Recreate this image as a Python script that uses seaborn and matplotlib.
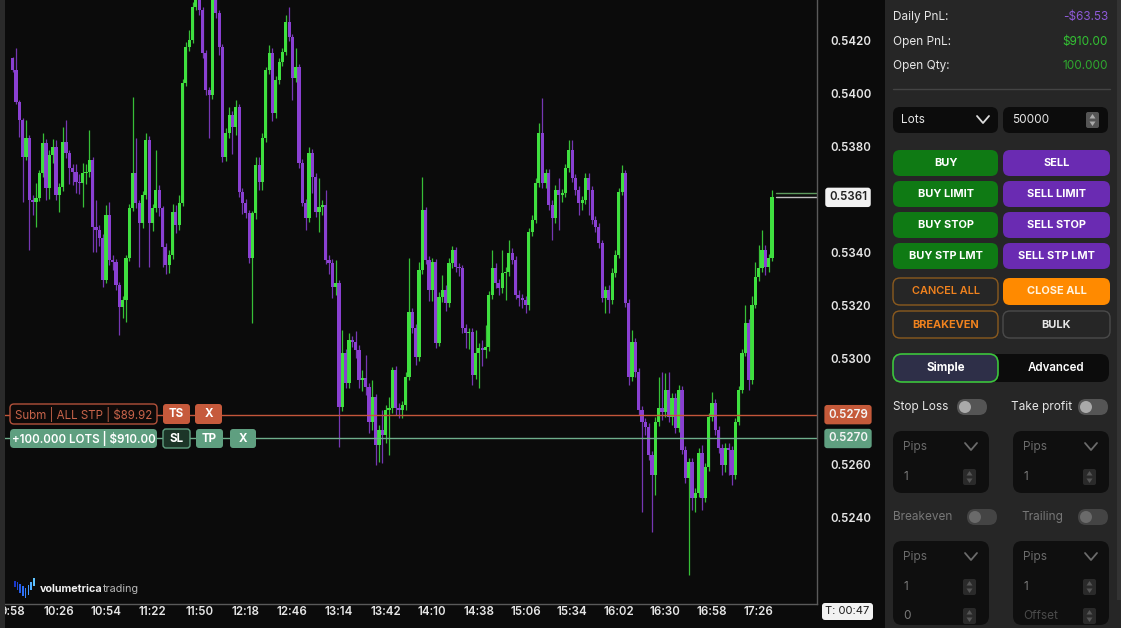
import matplotlib
matplotlib.use('Agg')
import matplotlib.pyplot as plt
import matplotlib.patches as mpatches
from matplotlib.transforms import blended_transform_factory
import seaborn as sns
import numpy as np

# ---- chart data (prices in 1e-5 units, 2 minute bars from 09:58) ----
first_open = 54136
closes = [
    54091, 53970, 53902, 53762, 53834, 53600, 53592, 53607, 53702, 53815,
    53645, 53770, 53800, 53619, 53649, 53819, 53777, 53721, 53706, 53668,
    53664, 53702, 53705, 53751, 53498, 53487, 53457, 53298, 53543, 53374,
    53366, 53279, 53196, 53223, 53381, 53570, 53702, 53589, 53513, 53619,
    53826, 53513, 53570, 53638, 53568, 53423, 53355, 53392, 53555, 53506,
    53589, 54042, 54177, 54204, 54328, 54374, 54317, 54155, 54015, 53996,
    54366, 54306, 54177, 53762, 53853, 53921, 53875, 53951, 53630, 53589,
    53551, 53381, 53550, 53732, 53668, 53834, 54091, 54155, 53928, 54053,
    54121, 54158, 54272, 54215, 54060, 54102, 53740, 53589, 53532, 53777,
    53687, 53555, 53574, 53581, 53374, 53362, 53272, 53287, 52819, 53023,
    52909, 53072, 53064, 53034, 52921, 52928, 52894, 52762, 52857, 52675,
    52732, 52713, 52807, 52815, 52958, 52814, 52807, 52826, 52932, 53177,
    53117, 53007, 53336, 53562, 53374, 53260, 53366, 53060, 53234, 53260,
    53211, 53362, 53411, 53347, 53343, 53117, 53098, 53102, 52940, 53023,
    53041, 53034, 53045, 53241, 53343, 53287, 53268, 53324, 53328, 53400,
    53374, 53241, 53230, 53223, 53204, 53479, 53524, 53664, 53853, 53664,
    53702, 53581, 53532, 53638, 53619, 53626, 53721, 53789, 53683, 53638,
    53589, 53600, 53683, 53638, 53524, 53498, 53438, 53230, 53260, 53223,
    53324, 53392, 53630, 53702, 53211, 52932, 53064, 52951, 52807, 52762,
    52743, 52638, 52562, 52762, 52815, 52800, 52883, 52781, 52853, 52740,
    52883, 52656, 52551, 52611, 52475, 52494, 52645, 52475, 52592, 52781,
    52834, 52732, 52664, 52600, 52664, 52656, 52562, 52762, 52883, 53023,
    53136, 52921, 53204, 53309, 53343, 53411, 53347, 53381, 53610,
]
upper_wick = [
    4, 83, 8, 8, 68, 11, 20, 57, 10, 38,
    15, 20, 30, 26, 15, 57, 83, 10, 15, 30,
    30, 38, 30, 113, 10, 102, 20, 15, 38, 49,
    20, 10, 10, 15, 10, 15, 287, 132, 10, 15,
    25, 15, 15, 151, 20, 10, 15, 20, 30, 25,
    30, 15, 20, 38, 20, 10, 10, 10, 10, 10,
    10, 10, 10, 10, 20, 30, 15, 25, 10, 15,
    15, 10, 10, 30, 30, 20, 10, 30, 20, 15,
    15, 15, 26, 57, 10, 72, 10, 15, 15, 23,
    15, 15, 110, 20, 56, 20, 15, 87, 10, 87,
    15, 25, 15, 40, 20, 30, 87, 15, 64, 10,
    20, 75, 20, 42, 10, 15, 20, 15, 20, 204,
    15, 15, 30, 125, 10, 15, 15, 10, 20, 57,
    20, 20, 15, 11, 15, 10, 15, 15, 15, 87,
    20, 30, 83, 15, 68, 20, 15, 87, 20, 49,
    20, 15, 20, 15, 15, 15, 20, 20, 38, 132,
    15, 15, 20, 20, 45, 15, 15, 38, 38, 15,
    15, 15, 20, 20, 15, 15, 15, 10, 15, 20,
    20, 20, 15, 30, 10, 15, 45, 15, 15, 15,
    15, 15, 15, 20, 117, 136, 64, 68, 20, 20,
    20, 15, 15, 15, 15, 20, 20, 30, 15, 15,
    42, 15, 15, 15, 20, 20, 15, 15, 15, 15,
    68, 15, 34, 57, 87, 75, 19, 15, 26,
]
lower_wick = [
    8, 8, 64, 170, 11, 189, 50, 94, 10, 15,
    45, 40, 30, 19, 64, 15, 20, 60, 50, 40,
    40, 90, 40, 20, 94, 83, 30, 26, 10, 20,
    30, 20, 106, 40, 83, 10, 10, 20, 166, 20,
    15, 166, 30, 15, 30, 75, 35, 30, 15, 30,
    20, 10, 10, 15, 10, 10, 20, 20, 20, 162,
    15, 20, 30, 20, 15, 20, 100, 30, 20, 40,
    20, 20, 245, 20, 30, 30, 15, 15, 30, 20,
    15, 15, 10, 15, 83, 15, 20, 10, 45, 15,
    60, 20, 75, 30, 15, 40, 40, 30, 151, 15,
    20, 20, 20, 30, 30, 40, 30, 40, 30, 75,
    64, 106, 30, 170, 20, 25, 30, 30, 20, 10,
    20, 30, 15, 15, 15, 40, 40, 20, 10, 20,
    30, 15, 20, 20, 30, 20, 56, 60, 38, 15,
    132, 60, 30, 15, 15, 20, 25, 20, 100, 15,
    15, 15, 30, 30, 30, 20, 15, 10, 15, 20,
    20, 20, 83, 20, 132, 25, 15, 15, 15, 20,
    45, 25, 15, 94, 15, 20, 20, 15, 57, 49,
    15, 15, 10, 10, 15, 30, 15, 20, 20, 340,
    30, 20, 215, 75, 15, 30, 20, 20, 30, 20,
    15, 15, 20, 366, 45, 53, 15, 45, 15, 15,
    15, 20, 20, 38, 25, 94, 38, 15, 10, 10,
    10, 38, 15, 10, 15, 15, 30, 20, 10,
]
bar_minutes = 2
time_minutes = [0, 28, 56, 84, 112, 140, 168, 196, 224, 252, 280, 308, 336, 364, 392, 420, 448]
time_labels = ['9:58', '10:26', '10:54', '11:22', '11:50', '12:18', '12:46', '13:14', '13:42',
               '14:10', '14:38', '15:06', '15:34', '16:02', '16:30', '16:58', '17:26']
price_ticks = [0.5420, 0.5400, 0.5380, 0.5340, 0.5320, 0.5300, 0.5260, 0.5240]
last_price = 0.5361
bid_price = 0.53625
stop_price = 0.5279
entry_price = 0.5270

scale = 1e-5
c = np.array(closes) * scale
o = np.r_[first_open, closes[:-1]] * scale
hi = np.maximum(o, c) + np.array(upper_wick) * scale
lo = np.minimum(o, c) - np.array(lower_wick) * scale
t = np.arange(len(closes)) * bar_minutes

UP = '#3fe03f'
DOWN = '#8a40d2'
BG = '#0b0b0b'

sns.set_theme(style='dark', rc={'axes.facecolor': BG, 'figure.facecolor': BG})
plt.rcParams['font.family'] = ['Inter', 'DejaVu Sans']

W, H = 1121, 628
fig = plt.figure(figsize=(W / 100, H / 100), dpi=100)
ax = fig.add_axes([0, 24 / H, 817 / W, 604 / H])
ax.set_facecolor(BG)

cols = np.where(c >= o, UP, DOWN)
ax.vlines(t, lo, hi, colors=cols, linewidth=0.9, alpha=0.85)
body = np.where(np.abs(c - o) < 2e-5, 2e-5, c - o)
ax.bar(t, body, bottom=o, width=1.9, color=cols, linewidth=0, edgecolor='none')

# order lines and last price lines
ax.axhline(stop_price, color='#c4563a', lw=1)
ax.axhline(entry_price, color='#6fae8c', lw=1)
ax.axhline(bid_price, xmin=776 / 817, color='#5f9a5f', lw=1)
ax.axhline(last_price, xmin=776 / 817, color='#c0c0c0', lw=1)

ax.set_xlim(-12.7 / 1.665, (817 - 12.7) / 1.665)
ax.set_ylim(0.5420 - 563 / 26500, 0.5420 + 41 / 26500)
ax.grid(False)
for s in ['top', 'left']:
    ax.spines[s].set_visible(False)
for s in ['right', 'bottom']:
    ax.spines[s].set_color('#5a5a5a')
    ax.spines[s].set_linewidth(1)

ax.set_yticks(price_ticks, [f'{p:.4f}' for p in price_ticks])
ax.yaxis.tick_right()
ax.tick_params(axis='y', length=0, pad=9.5, labelsize=8.3, labelcolor='#e6e6e6')
ax.set_xticks(time_minutes, time_labels)
ax.tick_params(axis='x', length=0, pad=1.5, labelsize=8.3, labelcolor='#e6e6e6')
for lab in ax.get_xticklabels() + ax.get_yticklabels():
    lab.set_fontweight('semibold')

# price tags on the axis
tr = blended_transform_factory(ax.transAxes, ax.transData)
for price, fc, tc in [(last_price, '#f2f2f2', '#222222'),
                      (stop_price, '#c55a3a', '#f5f5f5'),
                      (entry_price, '#5f9f80', '#f5f5f5')]:
    ax.text(848 / 817, price, f'{price:.4f}', transform=tr, ha='center', va='center',
            fontsize=8.3, fontweight='semibold', color=tc, clip_on=False,
            bbox=dict(boxstyle='round,pad=0.32,rounding_size=0.25', fc=fc, ec='none'))

# ---- overlay in pixel coordinates for the trading panel ----
ui = fig.add_axes([0, 0, 1, 1], zorder=5)
ui.set_xlim(0, W)
ui.set_ylim(H, 0)
ui.axis('off')
ui.patch.set_alpha(0)


def rect(x0, y0, w, h, fc):
    ui.add_patch(mpatches.Rectangle((x0, y0), w, h, fc=fc, ec='none', lw=0))


def rbox(x0, y0, x1, y1, fc, ec='none', r=6, lw=1.0):
    ui.add_patch(mpatches.FancyBboxPatch((x0, y0), x1 - x0, y1 - y0,
                                         boxstyle=f'round,pad=0,rounding_size={r}',
                                         fc=fc, ec=ec, lw=lw if ec != 'none' else 0))


def label(x, y, s, color='#e6e6e6', size=8.5, weight='normal', ha='left'):
    return ui.text(x, y, s, color=color, fontsize=size, fontweight=weight, ha=ha, va='center')


def chevron(x, y, color):
    ui.plot([x - 6, x, x + 6], [y - 4, y + 3, y - 4], color=color, lw=1.3,
            solid_capstyle='round')


def spinner(x, y, fc, ac):
    rbox(x, y - 8, x + 13, y + 8, fc, r=2)
    ui.add_patch(mpatches.Polygon([[x + 3.5, y - 1.5], [x + 9.5, y - 1.5], [x + 6.5, y - 6]],
                                  fc=ac, ec='none', lw=0))
    ui.add_patch(mpatches.Polygon([[x + 3.5, y + 1.5], [x + 9.5, y + 1.5], [x + 6.5, y + 6]],
                                  fc=ac, ec='none', lw=0))


def toggle(x0, y, fc, kc):
    rbox(x0, y - 8, x0 + 30, y + 8, fc, r=8)
    ui.add_patch(mpatches.Circle((x0 + 8, y), 6, fc=kc, ec='none', lw=0))


# left scrollbar strip and panel background
rect(0, 0, 5, H, '#2a2a2a')
rect(885, 0, W - 885, H, '#262626')
rect(1117, 0, 4, 600, '#333333')

# order tags on the chart
rbox(10, 404, 157, 424, '#0e0a09', ec='#b2513a', r=4)
label(83.5, 414, 'Subm | ALL STP | $89.92', color='#c8644a', size=8.3, ha='center')
rbox(163, 404, 190, 424, '#c65a3c', r=3)
label(176.5, 414, 'TS', color='#ffffff', size=8.3, weight='bold', ha='center')
rbox(195, 404, 222, 424, '#c65a3c', r=3)
label(208.5, 414, 'X', color='#ffffff', size=8.3, weight='bold', ha='center')
rbox(10, 429, 157, 448, '#5f9f80', r=4)
label(83.5, 438.5, '+100.000 LOTS | $910.00', color='#ffffff', size=8.3, weight='semibold', ha='center')
rbox(163, 429, 190, 448, '#1c3528', ec='#5f9f80', r=3)
label(176.5, 438.5, 'SL', color='#ffffff', size=8.3, weight='bold', ha='center')
rbox(196, 429, 223, 448, '#5f9f80', r=3)
label(209.5, 438.5, 'TP', color='#ffffff', size=8.3, weight='bold', ha='center')
rbox(230, 429, 256, 448, '#5f9f80', r=3)
label(243, 438.5, 'X', color='#ffffff', size=8.3, weight='bold', ha='center')

# logo: a "V" made of slim bars
logo_tops = [581, 582, 584, 586, 588, 585, 582, 578]
logo_bottoms = [587, 590, 593, 596, 598, 595, 590, 586]
logo_cols = sns.blend_palette(['#1a36c8', '#2f78ff', '#5fc4ff'], len(logo_tops))
for k, (top, bot, col) in enumerate(zip(logo_tops, logo_bottoms, logo_cols)):
    rect(14 + k * 2.7, top, 1.6, bot - top, col)
brand = label(40, 589, 'volumetrica', color='#f0f0f0', size=7.8, weight='bold')
fig.canvas.draw()
bb = brand.get_window_extent().transformed(ui.transData.inverted())
label(max(bb.x0, bb.x1), 589, 'trading', color='#b8b8b8', size=7.8)

# timer box
rbox(822, 603, 873, 620, '#f2f2f2', r=3)
label(847.5, 611.5, 'T: 00:47', color='#1a1a1a', size=8, ha='center')

# account summary
for yy, name, val, vc in [(17, 'Daily PnL:', '-$63.53', '#8e5ad8'),
                          (42, 'Open PnL:', '$910.00', '#33c233'),
                          (66, 'Open Qty:', '100.000', '#2fa82f')]:
    label(893, yy, name, color='#e6e6e6', size=8.5)
    label(1108, yy, val, color=vc, size=8.5, ha='right')
ui.plot([893, 1110], [89, 89], color='#444444', lw=1)

rbox(893, 107, 998, 133, '#0c0c0c', r=7)
label(901, 120, 'Lots', size=8.5)
chevron(983, 120, '#dddddd')
rbox(1003, 107, 1108, 133, '#0c0c0c', r=7)
label(1012, 120, '50000', size=8.5)
spinner(1086, 120, '#555555', '#aaaaaa')

buttons = [('BUY', 'SELL', 163), ('BUY LIMIT', 'SELL LIMIT', 194),
           ('BUY STOP', 'SELL STOP', 225), ('BUY STP LMT', 'SELL STP LMT', 256)]
for left_txt, right_txt, yy in buttons:
    rbox(893, yy - 13, 998, yy + 13, '#0f7a14', r=7)
    rbox(1003, yy - 13, 1110, yy + 13, '#6a2bb2', r=7)
    label(945.5, yy, left_txt, color='#ffffff', size=7.9, weight='bold', ha='center')
    label(1056.5, yy, right_txt, color='#ffffff', size=7.9, weight='bold', ha='center')

rbox(893, 278, 998, 305, '#262626', ec='#8a5a1e', r=7)
label(945.5, 291.5, 'CANCEL ALL', color='#f0821e', size=7.9, weight='semibold', ha='center')
rbox(1003, 278, 1110, 305, '#ff8a00', r=7)
label(1056.5, 291.5, 'CLOSE ALL', color='#fff3df', size=7.9, weight='bold', ha='center')
rbox(893, 311, 998, 338, '#262626', ec='#8a5a1e', r=7)
label(945.5, 324.5, 'BREAKEVEN', color='#f0821e', size=7.9, weight='bold', ha='center')
rbox(1003, 311, 1110, 338, '#262626', ec='#4a4a4a', r=7)
label(1056.5, 324.5, 'BULK', color='#e6e6e6', size=7.9, weight='bold', ha='center')

rbox(893, 354, 1109, 382, '#0c0c0c', r=9)
rbox(893, 354, 998, 382, '#2e2f48', ec='#3cc43c', lw=1.2, r=9)
label(945.5, 368, 'Simple', color='#ffffff', size=8.3, weight='bold', ha='center')
label(1056, 368, 'Advanced', color='#ffffff', size=8.3, weight='semibold', ha='center')

label(893, 407, 'Stop Loss', size=8.5)
toggle(957, 407, '#555555', '#aaaaaa')
label(1011, 407, 'Take profit', size=8.5)
toggle(1078, 407, '#555555', '#aaaaaa')

for bx in (893, 1013):
    rbox(bx, 431, bx + 96, 493, '#0f0f0f', r=9)
    label(bx + 10, 447, 'Pips', color='#6b6b6b', size=8.5)
    chevron(bx + 78, 447, '#6b6b6b')
    label(bx + 10, 477, '1', color='#7a7a7a', size=8.5)
    spinner(bx + 70, 477, '#2a2a2a', '#555555')

label(893, 517, 'Breakeven', color='#777777', size=8.5)
toggle(967, 517, '#444444', '#6a6a6a')
label(1021, 517, 'Trailing', color='#777777', size=8.5)
toggle(1078, 517, '#444444', '#6a6a6a')

for bx, bottom_txt in ((893, '0'), (1013, 'Offset')):
    rbox(bx, 541, bx + 96, 625, '#0f0f0f', r=9)
    label(bx + 10, 557, 'Pips', color='#6b6b6b', size=8.5)
    chevron(bx + 78, 557, '#6b6b6b')
    label(bx + 10, 587, '1', color='#7a7a7a', size=8.5)
    spinner(bx + 70, 587, '#2a2a2a', '#555555')
    label(bx + 10, 616, bottom_txt, color='#7a7a7a' if bottom_txt == '0' else '#4a4a4a', size=8.5)
    spinner(bx + 70, 616, '#2a2a2a', '#555555')

fig.savefig('out.png', dpi=100, facecolor=BG)
